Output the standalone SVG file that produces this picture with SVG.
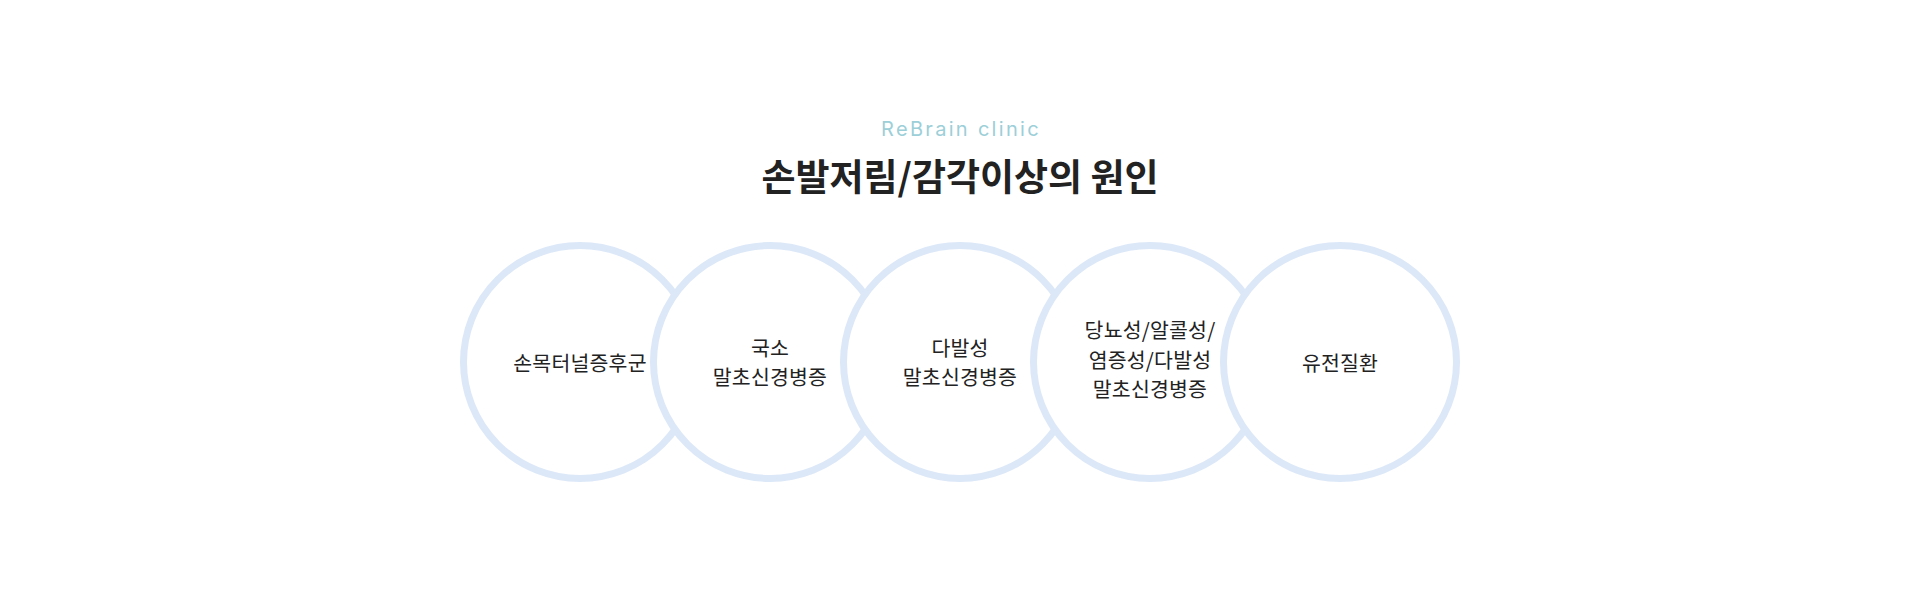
<svg xmlns="http://www.w3.org/2000/svg" width="1920" height="602" viewBox="0 0 1920 602">
<style>
.ring{fill:#ffffff;stroke:#dce8f8;stroke-width:7}
.lbl{font-family:"Noto Sans CJK KR","Noto Sans",sans-serif;font-size:20.5px;font-weight:400;fill:#222222;text-anchor:middle;letter-spacing:0.2px}
.sub{font-family:Inter,"Liberation Sans",sans-serif;font-size:20px;fill:#9ccfd8;text-anchor:middle;letter-spacing:2.3px}
.title{font-family:"Noto Sans CJK KR","Noto Sans",sans-serif;font-size:37px;font-weight:bold;fill:#222222;text-anchor:middle}
</style>
<rect width="1920" height="602" fill="#ffffff"/>
<g id="header">
<text class="sub" x="961" y="135.5">ReBrain clinic</text>
<text class="title" x="960" y="191">손발저림/감각이상의 원인</text>
</g>
<g id="connectors"></g>
<g id="node1">
<circle class="ring" cx="580" cy="362" r="116.5"/>
<text class="lbl" x="580" y="371">손목터널증후군</text>
</g>
<g id="node2">
<circle class="ring" cx="770" cy="362" r="116.5"/>
<text class="lbl" x="770" y="356">국소</text>
<text class="lbl" x="770" y="385">말초신경병증</text>
</g>
<g id="node3">
<circle class="ring" cx="960" cy="362" r="116.5"/>
<text class="lbl" x="960" y="356">다발성</text>
<text class="lbl" x="960" y="385">말초신경병증</text>
</g>
<g id="node4">
<circle class="ring" cx="1150" cy="362" r="116.5"/>
<text class="lbl" x="1150" y="338">당뇨성/알콜성/</text>
<text class="lbl" x="1150" y="367.5">염증성/다발성</text>
<text class="lbl" x="1150" y="397">말초신경병증</text>
</g>
<g id="node5">
<circle class="ring" cx="1340" cy="362" r="116.5"/>
<text class="lbl" x="1340" y="371">유전질환</text>
</g>
</svg>
